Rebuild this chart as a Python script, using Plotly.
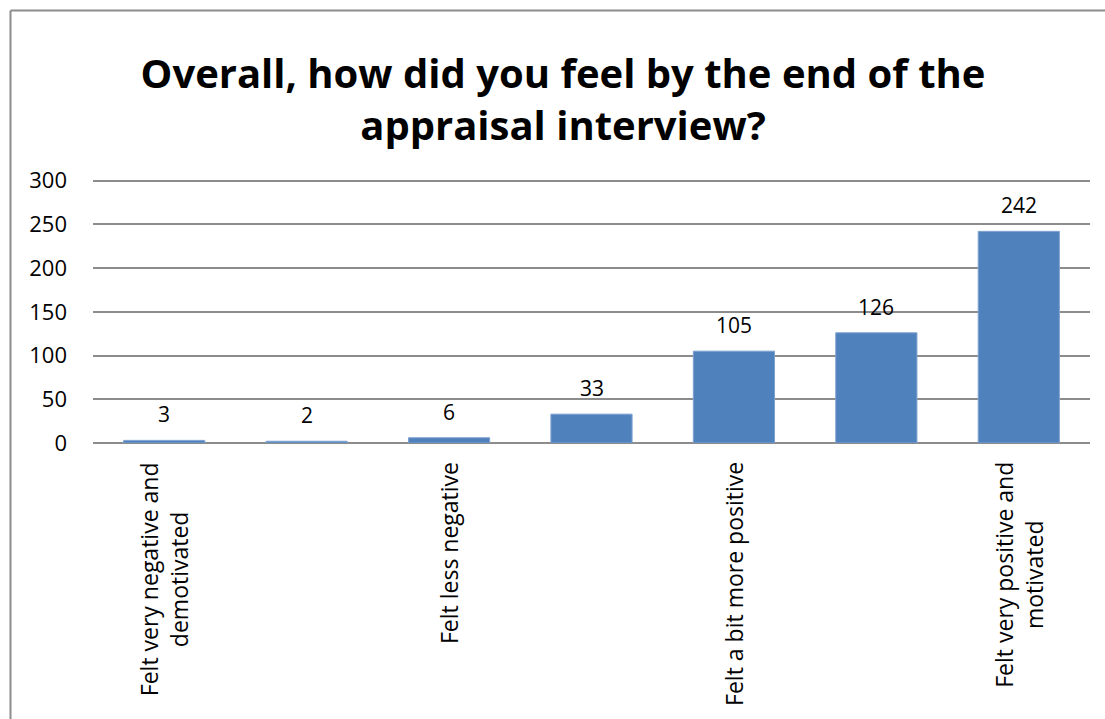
import plotly.graph_objects as go

# Survey responses, one bar per answer option (labels shown for every other option)
categories = [
    "Felt very negative and<br>demotivated",
    "",
    "Felt less negative",
    "",
    "Felt a bit more positive",
    "",
    "Felt very positive and<br>motivated",
]
counts = [3, 2, 6, 33, 105, 126, 242]
y_ticks = [0, 50, 100, 150, 200, 250, 300]

W, H = 1105, 719
L, R, T, B = 93, 15, 178, 276
plot_w = W - L - R
plot_h = H - T - B

BAR = "#4F81BD"
GRID = "#8C8C8C"
FONT = "Open Sans"

x_pos = list(range(len(counts)))

fig = go.Figure(
    go.Bar(
        x=x_pos,
        y=counts,
        marker=dict(color=BAR, line=dict(color="#7FA1CF", width=1)),
        width=0.57,
        hoverinfo="x+y",
    )
)

# value labels above each bar
for xi, v in zip(x_pos, counts):
    fig.add_annotation(
        x=xi, y=v, xref="x", yref="y", text=str(v), showarrow=False,
        yanchor="bottom", yshift=10,
        font=dict(family=FONT, size=21, color="#000000"),
    )

# rotated category labels beneath the axis
for xi, lab in zip(x_pos, categories):
    if not lab:
        continue
    fig.add_annotation(
        x=xi, y=0, xref="x", yref="y", text=lab, showarrow=False,
        textangle=-90, align="center", yanchor="top", xanchor="center",
        yshift=-17,
        font=dict(family=FONT, size=23, color="#000000"),
    )

def px_to_paper_x(px):
    return (px - L) / plot_w

def px_to_paper_y(py):
    return (H - B - py) / plot_h

# chart frame
frame = dict(color=GRID, width=2)
fig.add_shape(type="line", xref="paper", yref="paper",
              x0=px_to_paper_x(10.5), x1=px_to_paper_x(1120),
              y0=px_to_paper_y(10.5), y1=px_to_paper_y(10.5), line=frame)
fig.add_shape(type="line", xref="paper", yref="paper",
              x0=px_to_paper_x(10.5), x1=px_to_paper_x(10.5),
              y0=px_to_paper_y(10.5), y1=px_to_paper_y(730), line=frame)

fig.update_layout(
    width=W, height=H,
    margin=dict(l=L, r=R, t=T, b=B),
    paper_bgcolor="white", plot_bgcolor="white",
    showlegend=False,
    title=dict(
        text="<b>Overall, how did you feel by the end of the<br>appraisal interview?</b>",
        x=563 / W, xanchor="center", xref="container",
        y=1 - 88 / H, yanchor="middle", yref="container",
        font=dict(family=FONT, size=40, color="#000000"),
    ),
    xaxis=dict(
        range=[-0.5, len(counts) - 0.5],
        tickvals=x_pos, showticklabels=False,
        showgrid=False, zeroline=False, showline=False, ticks="",
    ),
    yaxis=dict(
        range=[0, 303], tickvals=y_ticks,
        showgrid=True, gridcolor=GRID, gridwidth=1.5,
        zeroline=True, zerolinecolor=GRID, zerolinewidth=1.5,
        showline=False, ticks="", ticklabelstandoff=25,
        tickfont=dict(family=FONT, size=22, color="#000000"),
    ),
)

fig.write_html("out.html")
